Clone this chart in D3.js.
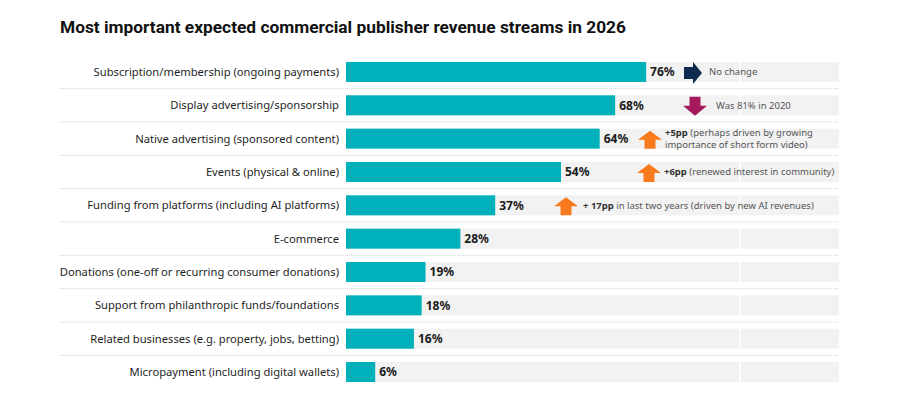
<!DOCTYPE html>
<html>
<head>
<meta charset="utf-8">
<script src="https://cdn.jsdelivr.net/npm/d3@7"></script>
<style>
  body { margin: 0; background: #fff; }
  svg { display: block; }
</style>
</head>
<body>
<script>
// chart data
var categories = [
    "Subscription/membership (ongoing payments)",
    "Display advertising/sponsorship",
    "Native advertising (sponsored content)",
    "Events (physical & online)",
    "Funding from platforms (including AI platforms)",
    "E-commerce",
    "Donations (one-off or recurring consumer donations)",
    "Support from philanthropic funds/foundations",
    "Related businesses (e.g. property, jobs, betting)",
    "Micropayment (including digital wallets)"
];
var values = [76, 68, 64, 54, 37, 28, 19, 18, 16, 6];

// change annotations (row index, arrow direction, bold part, rest)
var noteRows = [0, 1, 2, 3, 4];
var noteArrows = ["right", "down", "up", "up", "up"];
var noteBold = ["", "", "+5pp", "+6pp", "+ 17pp"];
var noteText = [
    ["No change"],
    ["Was 81% in 2020"],
    [" (perhaps driven by growing", "importance of short form video)"],
    [" (renewed interest in community)"],
    [" in last two years (driven by new AI revenues)"]
];

var title = "Most important expected commercial publisher revenue streams in 2026";

var width = 907, height = 398;
var barColor = "#00b1bb";
var arrowColors = {right: "#0f2a4f", down: "#a3195b", up: "#f97a1c"};
var font = "'Noto Sans', sans-serif";

var svg = d3.select("body").append("svg")
    .attr("width", width)
    .attr("height", height);

// scales
var x = d3.scaleLinear().domain([0, 100]).range([352, 739]);
var y = d3.scaleBand().domain(categories)
    .range([55.3, 388.7])
    .paddingInner(0.4)
    .paddingOuter(0.2);

var barLeft = 346, trackRight = 839;

// title
svg.append("text")
    .attr("x", 60)
    .attr("y", 33)
    .attr("font-family", "Roboto, sans-serif")
    .attr("font-weight", "bold")
    .attr("font-size", 17)
    .attr("fill", "#111")
    .attr("textLength", 566)
    .attr("lengthAdjust", "spacingAndGlyphs")
    .text(title);

// dotted separators between rows
var gap = (y.step() - y.bandwidth()) / 2;
svg.append("g").selectAll("line")
    .data(categories.slice(0, -1))
    .join("line")
    .attr("x1", 59).attr("x2", trackRight)
    .attr("y1", d => y(d) + y.bandwidth() + gap)
    .attr("y2", d => y(d) + y.bandwidth() + gap)
    .attr("stroke", "#cfcfcf")
    .attr("stroke-width", 1)
    .attr("stroke-dasharray", "1,1");

// grey tracks
var tracks = svg.append("g");
tracks.selectAll("rect.track")
    .data(categories)
    .join("rect")
    .attr("class", "track")
    .attr("x", barLeft)
    .attr("y", d => y(d))
    .attr("width", trackRight - barLeft)
    .attr("height", y.bandwidth())
    .attr("fill", "#f2f2f2");
tracks.selectAll("line")
    .data(categories)
    .join("line")
    .attr("x1", x(100) + 1).attr("x2", x(100) + 1)
    .attr("y1", d => y(d)).attr("y2", d => y(d) + y.bandwidth())
    .attr("stroke", "#fff").attr("stroke-width", 1.5);

// bars
svg.append("g").selectAll("rect")
    .data(values)
    .join("rect")
    .attr("x", barLeft)
    .attr("y", (d, i) => y(categories[i]))
    .attr("width", d => x(d) - barLeft)
    .attr("height", y.bandwidth())
    .attr("fill", barColor);

// category labels
svg.append("g").selectAll("text")
    .data(categories)
    .join("text")
    .attr("x", 339)
    .attr("y", d => y(d) + y.bandwidth() / 2)
    .attr("dy", "0.35em")
    .attr("text-anchor", "end")
    .attr("font-family", font)
    .attr("font-size", 11.2)
    .attr("fill", "#1e1e1e")
    .text(d => d);

// value labels
svg.append("g").selectAll("text")
    .data(values)
    .join("text")
    .attr("x", d => x(d) + 4)
    .attr("y", (d, i) => y(categories[i]) + y.bandwidth() / 2)
    .attr("dy", "0.35em")
    .attr("font-family", font)
    .attr("font-weight", "bold")
    .attr("font-size", 12)
    .attr("fill", "#1a1a1a")
    .text(d => d + "%");

// arrows + notes
var arrowX = [684, 683, 638, 637, 554]; // left edge of arrow, px
var arrowPaths = {
    up: "M12,0 L24,9 L17.5,9 L17.5,18 L6.5,18 L6.5,9 L0,9 Z",
    down: "M6.5,0 L17.5,0 L17.5,9 L24,9 L12,19 L0,9 L6.5,9 Z",
    right: "M0,5 L9,5 L9,0 L18,11 L9,22 L9,17 L0,17 Z"
};
var notes = svg.append("g");
noteRows.forEach(function (r, i) {
    var cy = y(categories[r]) + y.bandwidth() / 2;
    var dir = noteArrows[i];
    var h = dir === "right" ? 22 : (dir === "down" ? 19 : 18);
    var w = dir === "right" ? 18 : 24;
    notes.append("path")
        .attr("d", arrowPaths[dir])
        .attr("transform", "translate(" + arrowX[i] + "," + (cy - h / 2 + 1) + ")")
        .attr("fill", arrowColors[dir]);

    var pad = dir === "right" ? 7 : (dir === "down" ? 9 : (i === 4 ? 5 : 3));
    var tx = arrowX[i] + w + pad;
    var lines = noteText[i];
    var lh = 12;
    var y0 = cy - (lines.length - 1) * lh / 2;
    lines.forEach(function (ln, k) {
        var txt = notes.append("text")
            .attr("x", tx)
            .attr("y", y0 + k * lh)
            .attr("dy", "0.35em")
            .attr("font-family", font)
            .attr("font-size", 9.5)
            .attr("fill", "#555");
        if (k === 0 && noteBold[i]) {
            txt.append("tspan").attr("font-weight", "bold").attr("fill", "#333").text(noteBold[i]);
        }
        txt.append("tspan").text(ln);
    });
});
</script>
</body>
</html>
